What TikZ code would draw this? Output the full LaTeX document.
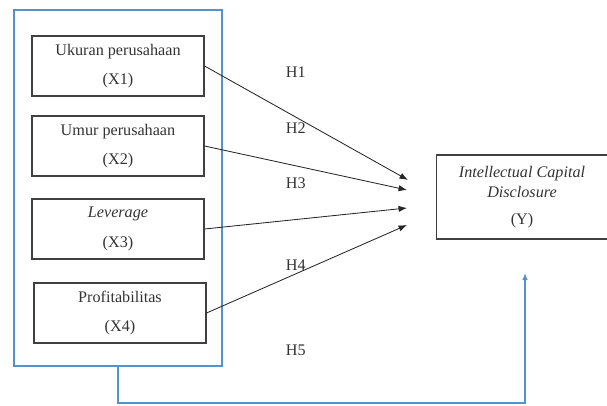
\documentclass[tikz,border=0pt]{standalone}
\usepackage{fontspec}
\setmainfont{Liberation Serif}
\usetikzlibrary{positioning,arrows.meta}
\definecolor{frameblue}{RGB}{84,146,206}

\begin{document}
\begin{tikzpicture}[x=0.025cm,y=-0.025cm,
	varbox/.style={draw=black!75,thick,minimum width=172*0.025cm,minimum height=60*0.025cm,align=center,font=\rmfamily\fontsize{11.5}{14}\selectfont,text=black!80},
	hyp/.style={anchor=west,font=\rmfamily\fontsize{11.5}{14}\selectfont,text=black!80},
	path/.style={-{Latex[length=6pt,width=4.5pt]},black!85,semithick}]
		\useasboundingbox (0,0) rectangle (607,406);
		\node[draw=frameblue,line width=1.5pt,minimum width=208*0.025cm,minimum height=356*0.025cm] (group) at (118,188) {};
		\node[varbox] (x1) at (118,66) {Ukuran perusahaan\\[7pt](X1)};
		\node[varbox] (x2) at (118,146) {Umur perusahaan\\[7pt](X2)};
		\node[varbox] (x3) at (118,229) {\textit{Leverage}\\[7pt](X3)};
		\node[varbox] (x4) at (120,313) {Profitabilitas\\[7pt](X4)};
		\node[varbox,minimum width=171*0.025cm,minimum height=84*0.025cm] (y) at (522,197) {\textit{Intellectual Capital}\\\textit{Disclosure}\\[5pt](Y)};
		% hypothesis labels
		\node[hyp] (h1) at (281,72) {H1};
		\node[hyp] (h2) at (281,128) {H2};
		\node[hyp] (h3) at (281,183) {H3};
		\node[hyp] (h4) at (281,265) {H4};
		\node[hyp] (h5) at (281,350) {H5};
		% arrow tips in front of Y
		\coordinate (t1) at (408,180);
		\coordinate (t2) at (407,190);
		\coordinate (t3) at (407,208);
		\coordinate (t4) at (407,225);
		\coordinate (ty) at (525,273);
		\foreach \X in {1,...,4}
		{\draw[path] (x\X.east) -- (t\X);}
		\draw[-{Latex[length=5pt,width=4pt]},frameblue,line width=1.5pt] (group.south) -- ++(0,36) -| (ty);
	   \end{tikzpicture}
\end{document}
